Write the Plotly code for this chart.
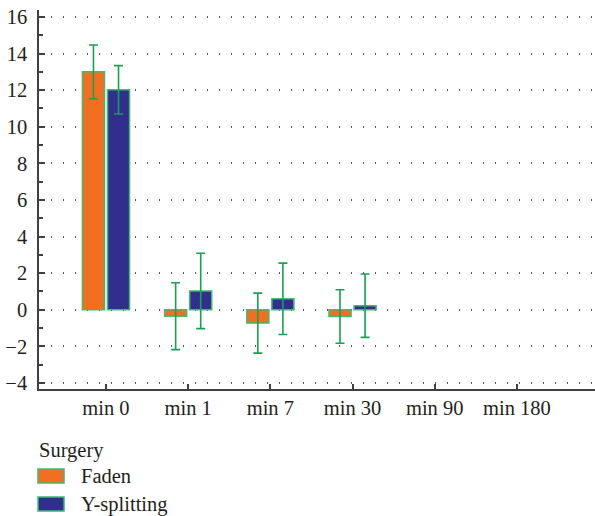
import plotly.graph_objects as go

categories = ["min 0", "min 1", "min 7", "min 30", "min 90", "min 180"]
faden = [13.0, -0.35, -0.73, -0.37, None, None]
faden_err = [1.47, 1.83, 1.64, 1.46, None, None]
ysplit = [12.02, 1.03, 0.6, 0.22, None, None]
ysplit_err = [1.32, 2.06, 1.95, 1.73, None, None]
y_ticks = [-4, -2, 0, 2, 4, 6, 8, 10, 12, 14, 16]
legend_title = "Surgery"
series_names = ["Faden", "Y-splitting"]
series_colors = ["#f26f22", "#312e8e"]

FONT = "Liberation Serif"
FS = 20.5
TXT = "#231f20"
outline = "#3dbb73"
errc = "#14a352"

fig = go.Figure()
for name, vals, errs, col in [
    (series_names[0], faden, faden_err, series_colors[0]),
    (series_names[1], ysplit, ysplit_err, series_colors[1]),
]:
    fig.add_trace(go.Bar(
        x=categories, y=vals, name=name, showlegend=False,
        marker=dict(color=col, line=dict(color=outline, width=1.5)),
        error_y=dict(type="data", array=errs, color=errc, thickness=1.6, width=4.5),
    ))

# legend drawn in paper coordinates (wide swatches as in the reference)
fig.add_annotation(text=legend_title, xref="paper", yref="paper", x=-0.003, y=-0.161,
                   xanchor="left", yanchor="middle", showarrow=False,
                   font=dict(family=FONT, size=FS, color=TXT))
for i, (name, col) in enumerate(zip(series_names, series_colors)):
    y0 = -0.211 - i * 0.074
    fig.add_shape(type="rect", xref="paper", yref="paper",
                  x0=-0.0018, x1=0.045, y0=y0, y1=y0 - 0.037,
                  fillcolor=col, line=dict(color=outline, width=1.5))
    fig.add_annotation(text=name, xref="paper", yref="paper", x=0.072, y=y0 - 0.0185,
                       xanchor="left", yanchor="middle", showarrow=False,
                       font=dict(family=FONT, size=FS, color=TXT))

fig.update_layout(
    width=595, height=516,
    margin=dict(l=39, r=0, t=10, b=127, autoexpand=False),
    paper_bgcolor="white", plot_bgcolor="white",
    barmode="group", bargap=0.39, bargroupgap=0.12,
    font=dict(family=FONT, size=FS, color=TXT),
    showlegend=False,
    xaxis=dict(
        type="category", categoryorder="array", categoryarray=categories,
        range=[-0.815, 5.95],
        showline=True, linecolor="#404040", linewidth=1.5,
        ticks="inside", ticklen=5, tickwidth=1.5, tickcolor="#404040",
        showgrid=False, zeroline=False,
        tickfont=dict(family=FONT, size=FS, color=TXT),
    ),
    yaxis=dict(
        range=[-4.33, 16.38],
        tickmode="array", tickvals=y_ticks,
        showline=True, linecolor="#404040", linewidth=1.5,
        ticks="inside", ticklen=6, tickwidth=1.5, tickcolor="#404040",
        minor=dict(dtick=1, ticks="inside", ticklen=4, tickwidth=1.5, tickcolor="#404040", showgrid=False),
        showgrid=True, gridcolor="#555555", gridwidth=1.5, griddash="1px,11px",
        zeroline=False,
        tickfont=dict(family=FONT, size=FS, color=TXT),
        ticklabelstandoff=6,
    ),
)

fig.write_html("out.html")
